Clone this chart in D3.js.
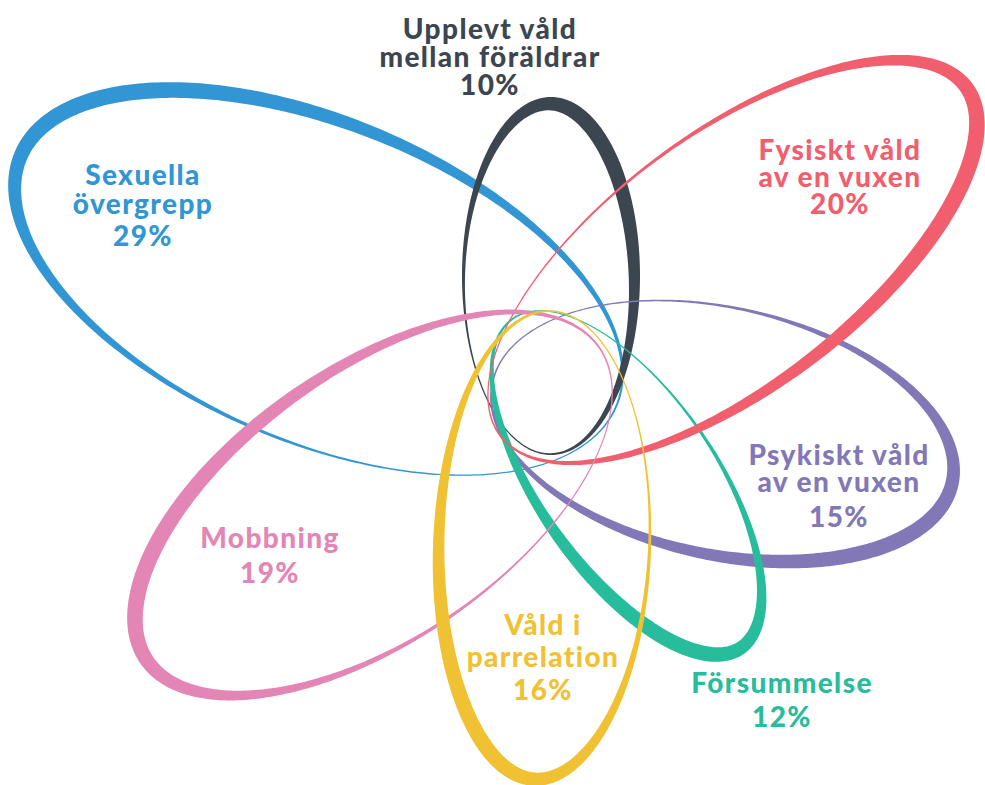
<!DOCTYPE html>
<html>
<head>
<meta charset="utf-8">
<script src="https://cdn.jsdelivr.net/npm/d3@7"></script>
<style>
    body { margin: 0; background: #fff; }
    .petal-label { font-family: Lato, "Open Sans", sans-serif; font-weight: 900; text-anchor: middle; letter-spacing: 1.4px; }
</style>
</head>
<body>
<div class="flower-container"></div>
<script>
// Data.
const categories = [
    'Upplevt våld mellan föräldrar',
    'Fysiskt våld av en vuxen',
    'Psykiskt våld av en vuxen',
    'Försummelse',
    'Våld i parrelation',
    'Mobbning',
    'Sexuella övergrepp'
];
const labelLines = [
    ['Upplevt våld', 'mellan föräldrar'],
    ['Fysiskt våld', 'av en vuxen'],
    ['Psykiskt våld', 'av en vuxen'],
    ['Försummelse'],
    ['Våld i', 'parrelation'],
    ['Mobbning'],
    ['Sexuella', 'övergrepp']
];
const values = [10, 20, 15, 12, 16, 19, 29];

// Styles / layout.
const palette = ['#3c4650', '#f15f6e', '#8278b8', '#27bc9c', '#f0c133', '#e386b5', '#3196d3'];
const drawOrder = [6, 0, 2, 3, 1, 5, 4];

// ellipse layout per petal: centre, semi axes, angle of the outer tip
const petals = [
    {cx: 551, cy: 276, a: 179, b: 89, angle: -90, wmax: 15},
    {cx: 736, cy: 260, a: 295, b: 130, angle: -36.8, wmax: 16},
    {cx: 725, cy: 434, a: 239, b: 127, angle: 12.5, wmax: 15},
    {cx: 628, cy: 486, a: 204, b: 92, angle: 55.4, wmax: 15},
    {cx: 542, cy: 548, a: 238, b: 109, angle: 92, wmax: 15},
    {cx: 370, cy: 505, a: 279, b: 139, angle: 145.4, wmax: 16},
    {cx: 316, cy: 279, a: 327, b: 163, angle: 202.9, wmax: 16}
];

// label anchor (centre x, baselines)
const labelPos = [
    {x: 490, y: [39, 67, 95]},
    {x: 840, y: [160, 187, 214]},
    {x: 839, y: [465, 492, 527]},
    {x: 782, y: [693, 727]},
    {x: 543, y: [635, 667, 700]},
    {x: 270, y: [548, 583]},
    {x: 143, y: [185, 214, 246]}
];

const WIDTH = 985;
const HEIGHT = 785;
const W_MIN = 1.2;
const PEAK = 35 * Math.PI / 180;

const svg = d3
    .select('.flower-container')
    .append('svg')
    .attr('width', WIDTH)
    .attr('height', HEIGHT);

const color = d3.scaleOrdinal()
    .domain(categories)
    .range(palette);

const line = d3.line().curve(d3.curveLinearClosed);

function ringPath(p) {
    const rot = p.angle * Math.PI / 180;
    const cosR = Math.cos(rot), sinR = Math.sin(rot);
    const widthScale = d3.scaleLinear().domain([0, 1]).range([W_MIN, p.wmax]);
    const toScreen = (x, y) => [p.cx + x * cosR - y * sinR, p.cy + x * sinR + y * cosR];

    const outer = [];
    const inner = [];
    d3.range(0, 360, 1).forEach(deg => {
        const t = deg * Math.PI / 180;
        const lx = p.a * Math.cos(t);
        const ly = p.b * Math.sin(t);
        let nx = p.b * Math.cos(t);
        let ny = p.a * Math.sin(t);
        const len = Math.hypot(nx, ny);
        nx /= len; ny /= len;
        const k = Math.pow((1 + Math.cos(t - PEAK)) / 2, 1.3);
        const w = widthScale(k);
        outer.push(toScreen(lx, ly));
        inner.push(toScreen(lx - nx * w, ly - ny * w));
    });
    return line(outer) + line(inner.reverse());
}

function drawPetals() {
    svg.append('g')
        .attr('class', 'petals')
        .selectAll('path')
        .data(drawOrder)
        .enter()
        .append('path')
        .attr('d', i => ringPath(petals[i]))
        .attr('fill-rule', 'evenodd')
        .style('fill', i => color(categories[i]));
}

function drawLabels() {
    const labels = svg.append('g')
        .attr('class', 'labels')
        .selectAll('text')
        .data(categories)
        .enter()
        .append('text')
        .attr('class', 'petal-label')
        .style('font-size', '28px')
        .style('fill', d => color(d));

    labels.each(function (d, i) {
        const lines = labelLines[i].concat([`${values[i]}%`]);
        d3.select(this)
            .selectAll('tspan')
            .data(lines)
            .enter()
            .append('tspan')
            .attr('x', labelPos[i].x)
            .attr('y', (l, j) => labelPos[i].y[j])
            .text(l => l);
    });
}

drawPetals();
drawLabels();
</script>
</body>
</html>
